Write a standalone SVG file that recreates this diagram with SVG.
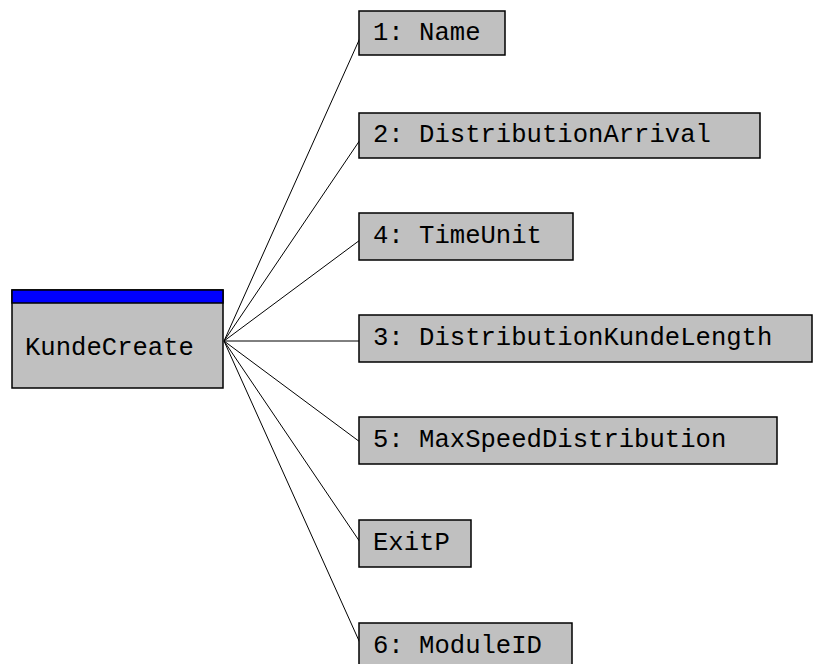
<svg xmlns="http://www.w3.org/2000/svg" width="816" height="664" viewBox="0 0 816 664">
<style>
.box{fill:#c0c0c0;stroke:#000;stroke-width:1.5}
.t{font-family:"Liberation Mono","Courier New",monospace;font-size:25.6px;fill:#000}
.c{stroke:#000;stroke-width:1;fill:none}
</style>
<rect width="816" height="664" fill="#fff"/>
<g id="connectors">
<line class="c" x1="224" y1="341" x2="360" y2="38"/>
<line class="c" x1="224" y1="341" x2="360" y2="140"/>
<line class="c" x1="224" y1="341" x2="360" y2="240"/>
<line class="c" x1="224" y1="341" x2="360" y2="341"/>
<line class="c" x1="224" y1="341" x2="360" y2="442"/>
<line class="c" x1="224" y1="341" x2="360" y2="542"/>
<line class="c" x1="224" y1="341" x2="360" y2="643"/>
</g>
<g id="KundeCreate">
<rect class="box" x="12" y="290" width="211" height="98"/>
<rect x="12" y="290" width="211" height="13" fill="#0000ff" stroke="#000" stroke-width="1.5"/>
<text class="t" x="25" y="355">KundeCreate</text>
</g>
<g id="n1">
<rect class="box" x="359" y="11" width="146" height="44"/>
<text class="t" x="373" y="40">1: Name</text>
</g>
<g id="n2">
<rect class="box" x="359" y="113" width="401" height="45"/>
<text class="t" x="373" y="142">2: DistributionArrival</text>
</g>
<g id="n4">
<rect class="box" x="359" y="213" width="214" height="47"/>
<text class="t" x="373" y="243">4: TimeUnit</text>
</g>
<g id="n3">
<rect class="box" x="359" y="315" width="453" height="47"/>
<text class="t" x="373" y="345">3: DistributionKundeLength</text>
</g>
<g id="n5">
<rect class="box" x="359" y="417" width="418" height="47"/>
<text class="t" x="373" y="447">5: MaxSpeedDistribution</text>
</g>
<g id="exitp">
<rect class="box" x="359" y="520" width="112" height="47"/>
<text class="t" x="373" y="550">ExitP</text>
</g>
<g id="n6">
<rect class="box" x="359" y="623" width="213" height="47"/>
<text class="t" x="373" y="653">6: ModuleID</text>
</g>
</svg>
